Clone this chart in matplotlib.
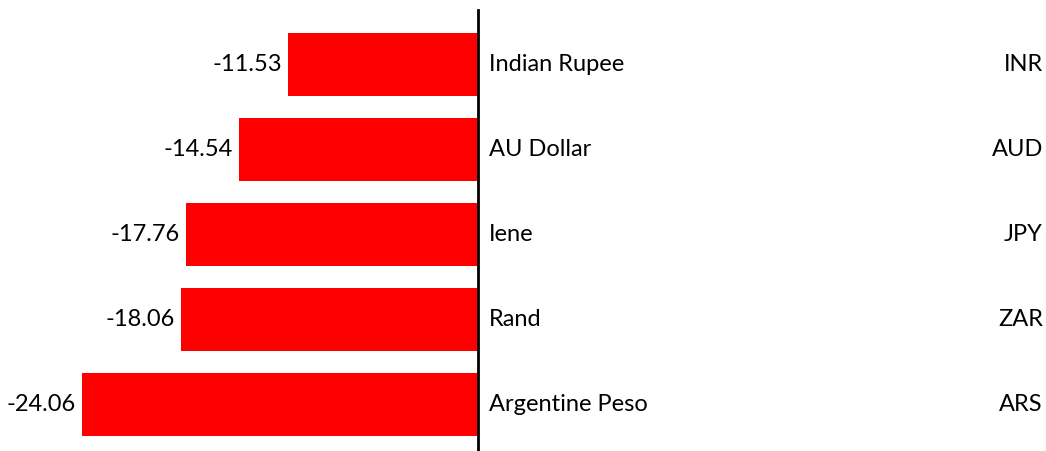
import matplotlib
matplotlib.use('Agg')
import matplotlib.pyplot as plt

# currency depreciation, in percent
names = ['Indian Rupee', 'AU Dollar', 'Iene', 'Rand', 'Argentine Peso']
codes = ['INR', 'AUD', 'JPY', 'ZAR', 'ARS']
values = [-11.53, -14.54, -17.76, -18.06, -24.06]

plt.rcParams['font.family'] = ['Lato', 'DejaVu Sans']
FONT_SIZE = 17

fig = plt.figure(figsize=(10.46, 4.51), dpi=100)
ax = fig.add_axes([0, 0, 1, 1])

y = list(range(len(values)))
ax.barh(y, values, height=0.741, color='#ff0000', zorder=2)

ax.set_xlim(-29.04, 34.51)
ax.set_ylim(4.547, -0.759)

# zero line
ax.plot([0, 0], [-0.641, 4.547], color='black', linewidth=2, zorder=3)

for i, (n, c, v) in enumerate(zip(names, codes, values)):
  ax.text(v - 0.36, i, "%.2f" % v, ha='right', va='center', fontsize=FONT_SIZE)
  ax.text(0.67, i, n, ha='left', va='center', fontsize=FONT_SIZE)
  ax.text(34.33, i, c, ha='right', va='center', fontsize=FONT_SIZE)

ax.axis('off')
fig.savefig('out.png', dpi=100)
